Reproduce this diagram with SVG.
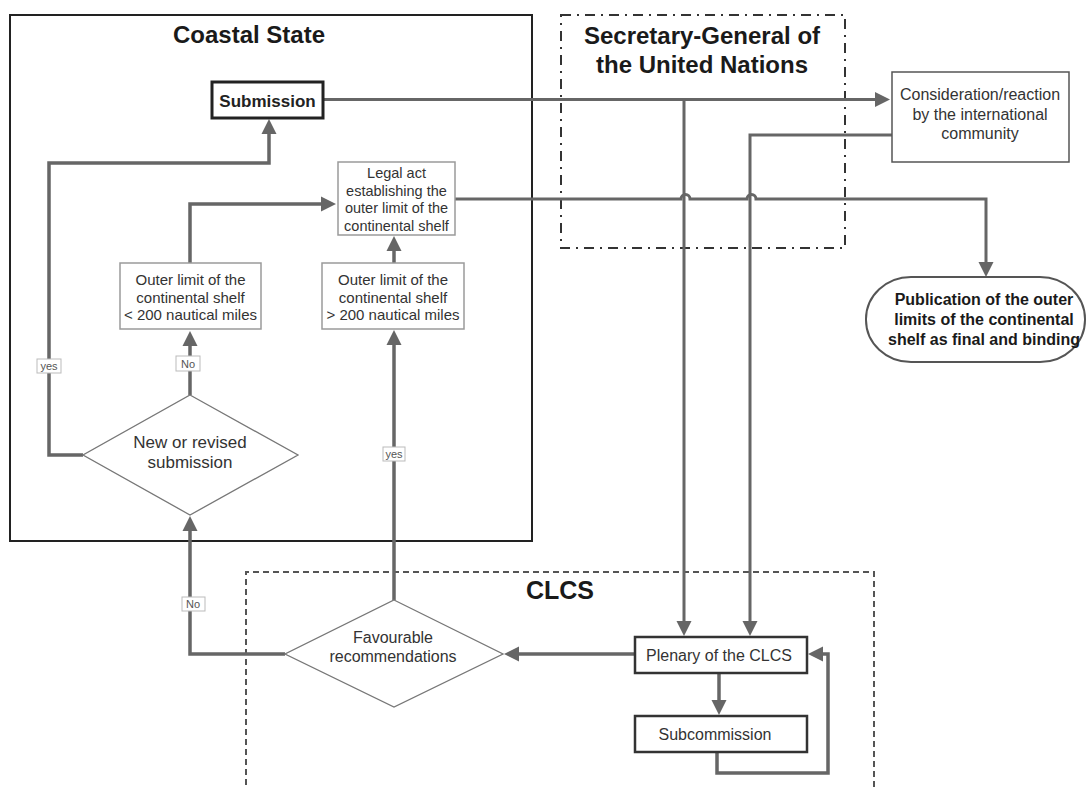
<svg xmlns="http://www.w3.org/2000/svg" width="1087" height="787" viewBox="0 0 1087 787">
<defs>
<marker id="ah" markerUnits="userSpaceOnUse" markerWidth="16" markerHeight="16" viewBox="0 0 16 16" refX="11" refY="8" orient="auto">
<path d="M0,0.5 L15,8 L0,15.5 z" fill="#666"/>
</marker>
<style>
.t{font-family:"Liberation Sans",Arial,sans-serif;text-anchor:middle;fill:#333}
.title{font-family:"Liberation Sans",Arial,sans-serif;text-anchor:middle;font-weight:bold;font-size:24px;fill:#1a1a1a}
.c{fill:none;stroke:#666;stroke-width:3.5;stroke-linejoin:miter}
.thin{stroke-width:3}
.box{fill:#fff;stroke:#9a9a9a;stroke-width:1.5}
.dk{fill:#fff;stroke:#333;stroke-width:2.5}
.dia{fill:#fff;stroke:#777;stroke-width:1.3}
.lbl{fill:#fff;stroke:#bbb;stroke-width:1}
.lt{font-family:"Liberation Sans",Arial,sans-serif;text-anchor:middle;font-size:11px;fill:#555}
</style>
</defs>
<rect width="1087" height="787" fill="#fff"/>

<g id="containers">
<g id="coastal-state">
<rect x="10" y="15" width="522" height="526" fill="none" stroke="#222" stroke-width="2"/>
<text class="title" x="249" y="43">Coastal State</text>
</g>
<g id="secretary-general">
<rect x="561" y="15" width="284" height="233" fill="none" stroke="#333" stroke-width="2" stroke-dasharray="10,6,2,6"/>
<text class="title" x="702" y="44">Secretary-General of</text>
<text class="title" x="702" y="73">the United Nations</text>
</g>
<g id="clcs">
<path d="M246,795 V572 H874 V795" fill="none" stroke="#555" stroke-width="2" stroke-dasharray="6,4"/>
<text class="title" x="560" y="599" style="font-size:25px">CLCS</text>
</g>
</g>

<g id="connectors">
<path class="c thin" d="M323,99.5 H886" marker-end="url(#ah)"/>
<path class="c thin" d="M684,99.5 V632" marker-end="url(#ah)"/>
<path class="c thin" d="M892,135 H750 V632" marker-end="url(#ah)"/>
<path class="c thin" d="M455,199 H681 A4.5,4.5 0 0 1 690,199 H747 A4.5,4.5 0 0 1 756,199 H986 V273" marker-end="url(#ah)"/>
<path class="c" d="M83,455 H49 V163 H269 V123" marker-end="url(#ah)"/>
<path class="c" d="M190,395 V335" marker-end="url(#ah)"/>
<path class="c" d="M190,263 V204 H332" marker-end="url(#ah)"/>
<path class="c" d="M394,263 V240" marker-end="url(#ah)"/>
<path class="c" d="M394,600 V334" marker-end="url(#ah)"/>
<path class="c" d="M285,654 H190 V520" marker-end="url(#ah)"/>
<path class="c" d="M635,654 H508" marker-end="url(#ah)"/>
<path class="c" d="M719,673 V711" marker-end="url(#ah)"/>
<path class="c" d="M717,752 V773 H828 V654 H812" marker-end="url(#ah)"/>
<g id="labels">
<rect class="lbl" x="37" y="359" width="24" height="14"/>
<text class="lt" x="49" y="370">yes</text>
<rect class="lbl" x="176" y="356" width="24" height="15"/>
<text class="lt" x="188" y="368">No</text>
<rect class="lbl" x="383" y="447" width="22" height="14"/>
<text class="lt" x="394" y="458">yes</text>
<rect class="lbl" x="182" y="597" width="23" height="14"/>
<text class="lt" x="193" y="608">No</text>
</g>
</g>

<g id="submission">
<rect x="212" y="82" width="111" height="36" fill="#fff" stroke="#222" stroke-width="3"/>
<text class="t" x="267.5" y="107" style="font-size:17px;font-weight:bold;fill:#222">Submission</text>
</g>

<g id="legal-act">
<rect class="box" x="338" y="162" width="117" height="73"/>
<text class="t" x="396.5" y="178" style="font-size:14.5px">Legal act</text>
<text class="t" x="396.5" y="196" style="font-size:14.5px">establishing the</text>
<text class="t" x="396.5" y="213" style="font-size:14.5px">outer limit of the</text>
<text class="t" x="396.5" y="231" style="font-size:14.5px">continental shelf</text>
</g>

<g id="outer-limit-less">
<rect class="box" x="120" y="263" width="141" height="66"/>
<text class="t" x="190.5" y="285" style="font-size:15px">Outer limit of the</text>
<text class="t" x="190.5" y="303" style="font-size:15px">continental shelf</text>
<text class="t" x="190.5" y="320" style="font-size:15px">&lt; 200 nautical miles</text>
</g>

<g id="outer-limit-more">
<rect class="box" x="322" y="263" width="142" height="66"/>
<text class="t" x="393" y="285" style="font-size:15px">Outer limit of the</text>
<text class="t" x="393" y="303" style="font-size:15px">continental shelf</text>
<text class="t" x="393" y="320" style="font-size:15px">&gt; 200 nautical miles</text>
</g>

<g id="new-or-revised">
<polygon class="dia" points="190,395 298,455 190,515 83,455"/>
<text class="t" x="190" y="448" style="font-size:17px">New or revised</text>
<text class="t" x="190" y="468" style="font-size:17px">submission</text>
</g>

<g id="consideration">
<rect x="892" y="72" width="177" height="90" fill="#fff" stroke="#555" stroke-width="1.5"/>
<text class="t" x="980" y="100" style="font-size:16px">Consideration/reaction</text>
<text class="t" x="980" y="119.5" style="font-size:16px">by the international</text>
<text class="t" x="980" y="139" style="font-size:16px">community</text>
</g>

<g id="publication">
<rect x="866" y="277" width="219" height="85" rx="45" ry="42" fill="#fff" stroke="#555" stroke-width="2"/>
<text class="t" x="984" y="305" style="font-size:16px;font-weight:bold;fill:#1a1a1a">Publication of the outer</text>
<text class="t" x="984" y="325" style="font-size:16px;font-weight:bold;fill:#1a1a1a">limits of the continental</text>
<text class="t" x="984" y="345" style="font-size:16px;font-weight:bold;fill:#1a1a1a">shelf as final and binding</text>
</g>

<g id="favourable">
<polygon class="dia" points="394,600 503,654 394,707 285,654"/>
<text class="t" x="393" y="643" style="font-size:16px">Favourable</text>
<text class="t" x="393" y="662" style="font-size:16px">recommendations</text>
</g>

<g id="plenary">
<rect class="dk" x="635" y="637" width="172" height="36"/>
<text class="t" x="719" y="661" style="font-size:16px">Plenary of the CLCS</text>
</g>

<g id="subcommission">
<rect class="dk" x="635" y="716" width="172" height="36"/>
<text class="t" x="715" y="740" style="font-size:16px">Subcommission</text>
</g>
</svg>
